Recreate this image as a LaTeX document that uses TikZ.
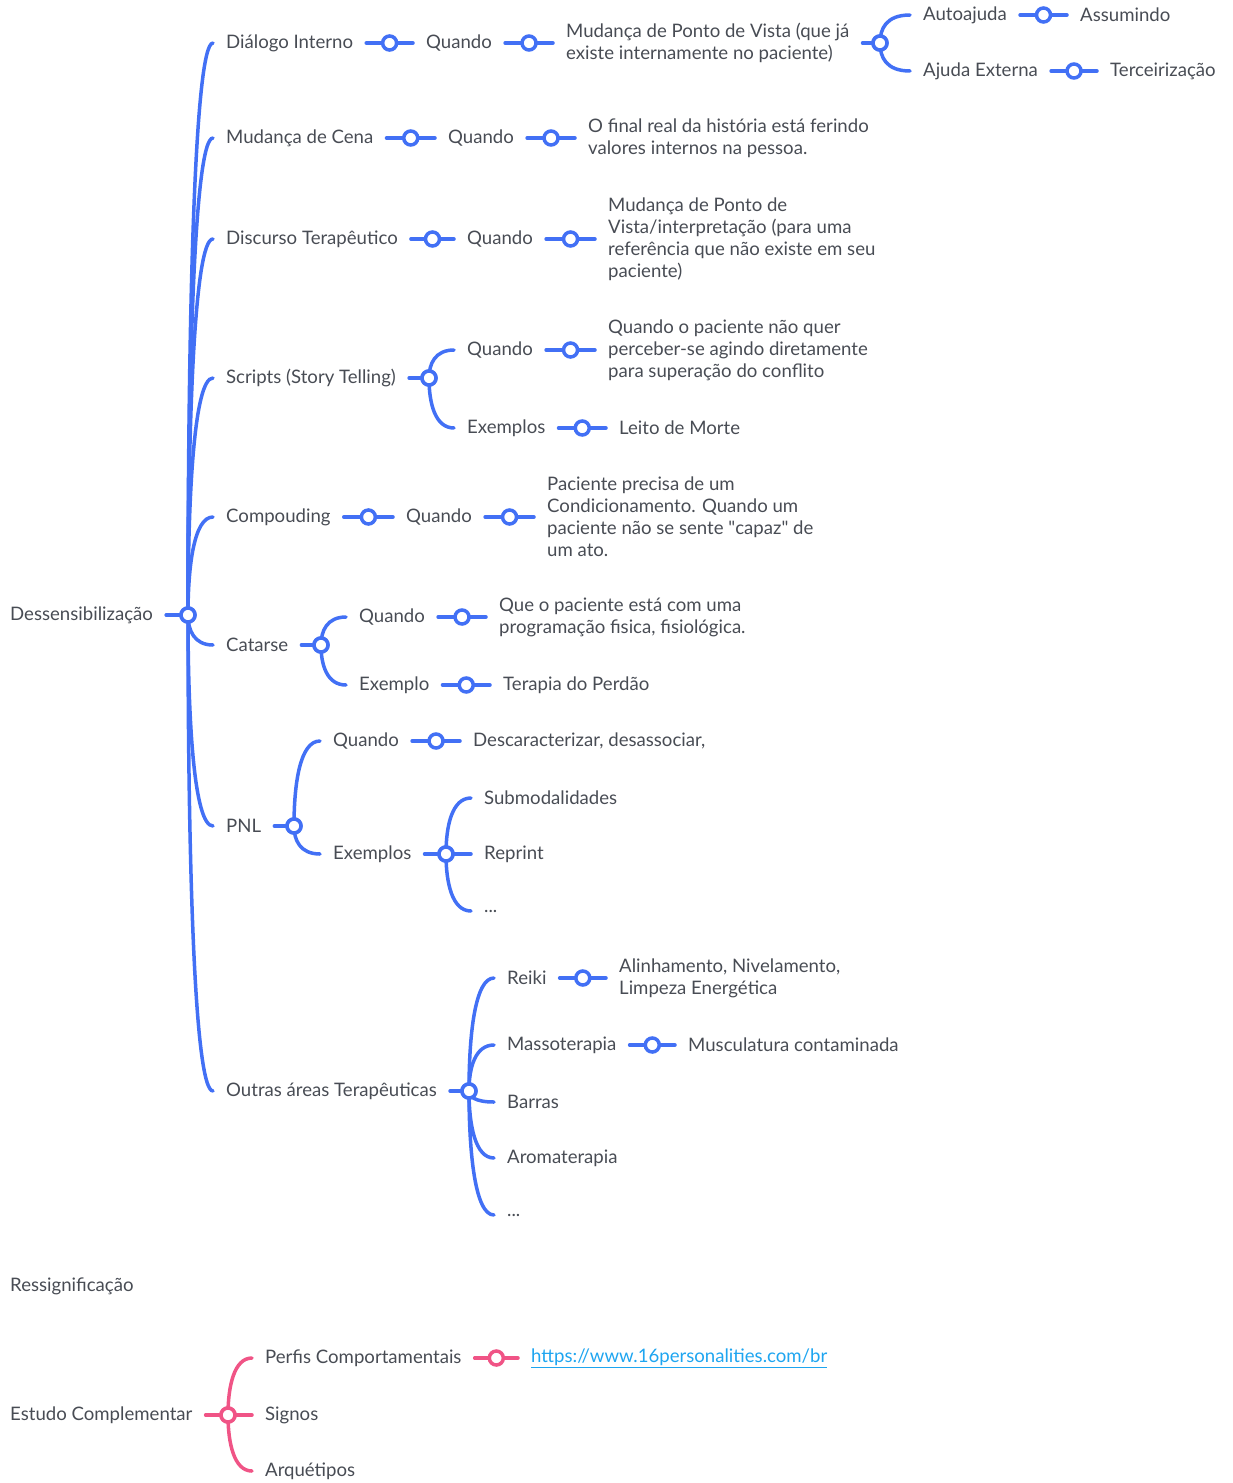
\documentclass[tikz,border=0pt]{standalone}
\usepackage{fontspec}
\setmainfont{Lato}
\usepackage{xcolor}
\usepackage{tikz}
\usetikzlibrary{positioning,calc}

\definecolor{mapblue}{RGB}{66,112,245}
\definecolor{mappink}{RGB}{240,84,134}
\definecolor{textgrey}{RGB}{72,76,84}
\definecolor{linkblue}{RGB}{30,165,240}

\tikzset{
    topic/.style={anchor=west, inner sep=0pt, text=textgrey, align=left,
        font=\fontsize{18.6}{22}\selectfont},
    knot/.style={circle, draw=#1, fill=white, line width=3.5pt, minimum size=14pt, inner sep=0pt},
    knot/.default=mapblue,
    branch/.style={draw=#1, line width=3.5pt, line cap=round},
    branch/.default=mapblue,
}

% single link: line with a knot in its middle
\newcommand{\maplink}[3][mapblue]{%
    \draw[branch=#1] ([xshift=13pt]#2.east) -- node[knot=#1] {} ([xshift=-13pt]#3.west);
}
% curved branch from a knot to a child
\newcommand{\mapfork}[3][mapblue]{%
    \draw[branch=#1] (#2.center) .. controls ($(#2.center)!0.5!(#2.center |- #3)$)
        and ([xshift=6pt]#2.center |- #3) .. ([xshift=-13pt]#3.west);
}

\begin{document}
\begin{tikzpicture}[x=1pt, y=-1pt]
    \useasboundingbox (0,0) rectangle (1232,1483);

    % Dessensibilizacao
    \node[topic] (des) at (10,615) {Dessensibilização};
    \node[knot] (kdes) at (188,615) {};
    \draw[branch] ([xshift=13pt]des.east) -- (kdes);

    \node[topic] (dia) at (226,43) {Diálogo Interno};
    \node[topic] (mcena) at (226,138) {Mudança de Cena};
    \node[topic] (disc) at (226,239) {Discurso Terapêutico};
    \node[topic] (scr) at (226,378) {Scripts (Story Telling)};
    \node[topic] (comp) at (226,517) {Compouding};
    \node[topic] (cat) at (226,645) {Catarse};
    \node[topic] (pnl) at (226,826) {PNL};
    \node[topic] (outr) at (226,1091) {Outras áreas Terapêuticas};
    \foreach \c in {dia,mcena,disc,scr,comp,cat,pnl,outr}
        \mapfork{kdes}{\c};
    \node[knot] at (kdes) {};

    % Dialogo Interno
    \node[topic] (diaq) at (426,43) {Quando};
    \node[topic] (diat) at (566,43) {Mudança de Ponto de Vista (que já\\existe internamente no paciente)};
    \node[topic] (auto) at (923,15) {Autoajuda};
    \node[topic] (ajud) at (923,71) {Ajuda Externa};
    \node[topic] (assu) at (1080,15) {Assumindo};
    \node[topic] (terc) at (1110,71) {Terceirização};
    \maplink{dia}{diaq}
    \maplink{diaq}{diat}
    \node[knot] (kdiat) at (880,43) {};
    \draw[branch] ([xshift=13pt]diat.east) -- (kdiat);
    \mapfork{kdiat}{auto}
    \mapfork{kdiat}{ajud}
    \node[knot] at (kdiat) {};
    \maplink{auto}{assu}
    \maplink{ajud}{terc}

    % Mudanca de Cena
    \node[topic] (mcq) at (448,138) {Quando};
    \node[topic] (mct) at (588,138) {O final real da história está ferindo\\valores internos na pessoa.};
    \maplink{mcena}{mcq}
    \maplink{mcq}{mct}

    % Discurso Terapeutico
    \node[topic] (dsq) at (467,239) {Quando};
    \node[topic] (dst) at (608,239) {Mudança de Ponto de\\Vista/interpretação (para uma\\referência que não existe em seu\\paciente)};
    \maplink{disc}{dsq}
    \maplink{dsq}{dst}

    % Scripts
    \node[topic] (scq) at (467,350) {Quando};
    \node[topic] (sce) at (467,428) {Exemplos};
    \node[topic] (sct) at (608,350) {Quando o paciente não quer\\perceber-se agindo diretamente\\para superação do conflito};
    \node[topic] (scl) at (619,428) {Leito de Morte};
    \node[knot] (kscr) at (429,378) {};
    \draw[branch] ([xshift=13pt]scr.east) -- (kscr);
    \mapfork{kscr}{scq}
    \mapfork{kscr}{sce}
    \node[knot] at (kscr) {};
    \maplink{scq}{sct}
    \maplink{sce}{scl}

    % Compouding
    \node[topic] (cpq) at (406,517) {Quando};
    \node[topic] (cpt) at (547,517) {Paciente precisa de um\\Condicionamento. Quando um\\paciente não se sente \textquotedbl capaz\textquotedbl{} de\\um ato.};
    \maplink{comp}{cpq}
    \maplink{cpq}{cpt}

    % Catarse
    \node[topic] (caq) at (359,617) {Quando};
    \node[topic] (cae) at (359,685) {Exemplo};
    \node[topic] (cat1) at (499,617) {Que o paciente está com uma\\programação fisica, fisiológica.};
    \node[topic] (cat2) at (503,685) {Terapia do Perdão};
    \node[knot] (kcat) at (321,645) {};
    \draw[branch] ([xshift=13pt]cat.east) -- (kcat);
    \mapfork{kcat}{caq}
    \mapfork{kcat}{cae}
    \node[knot] at (kcat) {};
    \maplink{caq}{cat1}
    \maplink{cae}{cat2}

    % PNL
    \node[topic] (pnq) at (333,741) {Quando};
    \node[topic] (pne) at (333,854) {Exemplos};
    \node[topic] (pnt) at (473,741) {Descaracterizar, desassociar,};
    \node[topic] (sub) at (484,798) {Submodalidades};
    \node[topic] (repr) at (484,854) {Reprint};
    \node[topic] (pdots) at (484,911) {...};
    \node[knot] (kpnl) at (294,826) {};
    \draw[branch] ([xshift=13pt]pnl.east) -- (kpnl);
    \mapfork{kpnl}{pnq}
    \mapfork{kpnl}{pne}
    \node[knot] at (kpnl) {};
    \maplink{pnq}{pnt}
    \node[knot] (kpne) at (446,854) {};
    \draw[branch] ([xshift=13pt]pne.east) -- (kpne);
    \foreach \c in {sub,repr,pdots}
        \mapfork{kpne}{\c};
    \node[knot] at (kpne) {};

    % Outras areas
    \node[topic] (rei) at (507,978) {Reiki};
    \node[topic] (mass) at (507,1045) {Massoterapia};
    \node[topic] (barr) at (507,1102) {Barras};
    \node[topic] (arom) at (507,1158) {Aromaterapia};
    \node[topic] (odots) at (507,1215) {...};
    \node[topic] (reit) at (619,978) {Alinhamento, Nivelamento,\\Limpeza Energética};
    \node[topic] (mast) at (688,1045) {Musculatura contaminada};
    \node[knot] (kout) at (469,1091) {};
    \draw[branch] ([xshift=13pt]outr.east) -- (kout);
    \foreach \c in {rei,mass,barr,arom,odots}
        \mapfork{kout}{\c};
    \node[knot] at (kout) {};
    \maplink{rei}{reit}
    \maplink{mass}{mast}

    % Ressignificacao
    \node[topic] (ress) at (10,1286) {Ressignificação};

    % Estudo Complementar
    \node[topic] (est) at (10,1415) {Estudo Complementar};
    \node[topic] (perf) at (265,1358) {Perfis Comportamentais};
    \node[topic] (sign) at (265,1415) {Signos};
    \node[topic] (arq) at (265,1471) {Arquétipos};
    \node[topic, text=linkblue] (url) at (531,1358) {\underline{https://www.16personalities.com/br}};
    \node[knot=mappink] (kest) at (228,1415) {};
    \draw[branch=mappink] ([xshift=13pt]est.east) -- (kest);
    \foreach \c in {perf,sign,arq}
        \mapfork[mappink]{kest}{\c};
    \node[knot=mappink] at (kest) {};
    \maplink[mappink]{perf}{url}
\end{tikzpicture}
\end{document}
